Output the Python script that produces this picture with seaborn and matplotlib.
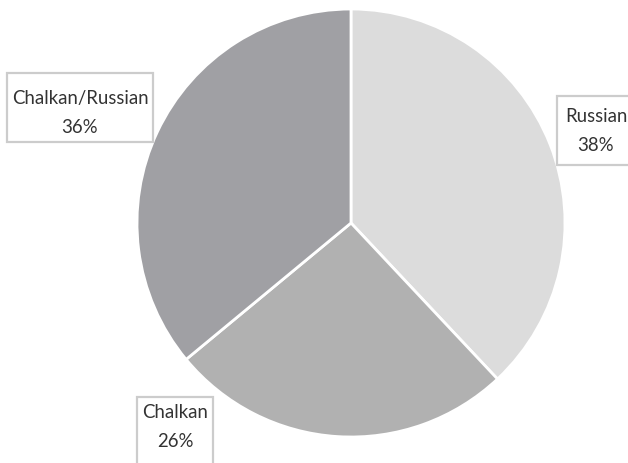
import matplotlib
matplotlib.use("Agg")
import matplotlib.pyplot as plt
import seaborn as sns
from matplotlib.patches import Rectangle

categories = ["Russian", "Chalkan", "Chalkan/Russian"]
values = [38, 26, 36]
colors = ["#dcdcdc", "#b1b1b1", "#a0a0a4"]

sns.set_theme(style="white")
plt.rcParams['font.family'] = ['Lato', 'DejaVu Sans']

W, H = 628, 464
fig = plt.figure(figsize=(W / 100, H / 100), dpi=100)
ax = fig.add_axes([0, 0, 1, 1])

cx, cy, r = 351, H - 224, 214
ax.pie(values, colors=colors, startangle=90, counterclock=False,
       center=(cx, cy), radius=r, frame=True,
       wedgeprops=dict(edgecolor='white', linewidth=2))
ax.set_xlim(0, W)
ax.set_ylim(0, H)
ax.set_aspect('equal')
ax.axis('off')

# label boxes (x0, y0_top, x1, y1_bottom) in pixel coords
boxes = {
    "Chalkan/Russian": (7, 74, 153, 143),
    "Russian": (557, 97, 645, 166),
    "Chalkan": (137, 398, 213, 480),
}
text_centers = {
    "Chalkan/Russian": (80, 113),
    "Russian": (596, 131),
    "Chalkan": (175, 427),
}
for cat, val in zip(categories, values):
    x0, y0, x1, y1 = boxes[cat]
    ax.add_patch(Rectangle((x0, H - y1), x1 - x0, y1 - y0, facecolor='white',
                           edgecolor='#cccccc', linewidth=1.6, zorder=5, clip_on=False))
    tx, ty = text_centers[cat]
    ax.text(tx, H - ty, f"{cat}\n{val}%", ha='center', va='center', fontsize=13.4,
            color='#333333', linespacing=1.8, zorder=6)

fig.savefig("out.png", dpi=100)
